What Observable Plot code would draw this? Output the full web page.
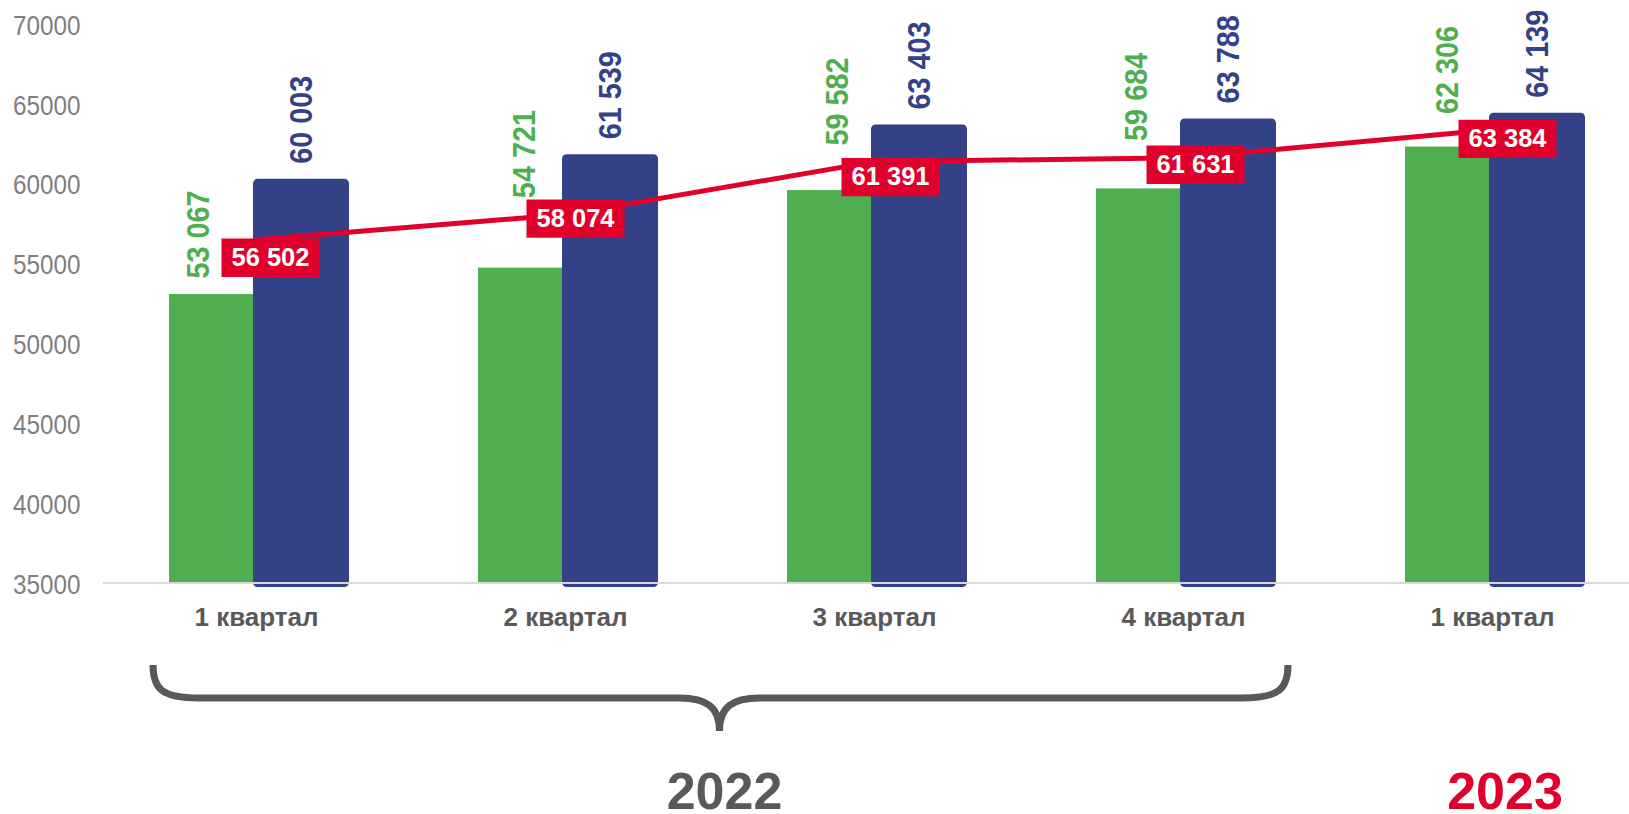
<!DOCTYPE html>
<html>
<head>
<meta charset="utf-8">
<script src="https://cdn.jsdelivr.net/npm/d3@7"></script>
<script src="https://cdn.jsdelivr.net/npm/@observablehq/plot@0.6"></script>
<style>
html,body{margin:0;padding:0;background:#fff;overflow:hidden}
svg{display:block}
</style>
</head>
<body>
<div id="chart"></div>
<script>
// ---- data ----
const quarterKeys = ["2022-1", "2022-2", "2022-3", "2022-4", "2023-1"];
const quarterLabels = ["1 квартал", "2 квартал", "3 квартал", "4 квартал", "1 квартал"];
const greenValues = [53067, 54721, 59582, 59684, 62306];
const blueValues = [60003, 61539, 63403, 63788, 64139];
const redValues = [56502, 58074, 61391, 61631, 63384];
const yTicks = [35000, 40000, 45000, 50000, 55000, 60000, 65000, 70000];
const yearLabels = ["2022", "2023"];

// ---- styling ----
const GREEN = "#4fae4f", BLUE = "#334287", RED = "#e0002b", GRAY = "#595959", TICK = "#7f7f7f";
const FONT = "'Liberation Sans', Arial, sans-serif";
// manual label nudges (px) as in the original layout
const redLabelNudge = [[14, 18], [10, 4], [16, 15.5], [12, 7], [15, 9]];
const greenLabelNudge = [[-13, -16], [4, -70], [8, -45], [-2, -48], [0, -33]];

const fmt = v => d3.format(",")(v).replace(/,/g, " ");
const labelByKey = Object.fromEntries(quarterKeys.map((k, i) => [k, quarterLabels[i]]));
const rows = quarterKeys.map((key, i) => ({
  key, label: quarterLabels[i], green: greenValues[i], blue: blueValues[i], red: redValues[i]
}));
const base = yTicks[0];

const rectSymbol = {draw(ctx) { ctx.rect(-49, -19.2, 98, 38.4); }};

const marks = [
  Plot.barY(rows, {x: "key", y1: base, y2: "green", fill: GREEN, insetLeft: 38, insetRight: 128}),
  Plot.barY(rows, {x: "key", y1: base, y2: "blue", fill: BLUE, stroke: BLUE, strokeWidth: 9,
    strokeLinejoin: "round", insetLeft: 126.5, insetRight: 36.5}),
  Plot.ruleY([base], {stroke: "#d9d9d9", strokeWidth: 2}),
  Plot.line(rows, {x: "key", y: "red", stroke: RED, strokeWidth: 5}),
  Plot.text(rows, {x: "key", y: "blue", text: d => fmt(d.blue), rotate: -90, textAnchor: "start",
    dx: 45, dy: -20, fill: BLUE, fontSize: 32, fontWeight: "bold"}),
  ...rows.map((d, i) => Plot.text([d], {x: "key", y: "green", text: r => fmt(r.green), rotate: -90,
    textAnchor: "start", dx: -45 + greenLabelNudge[i][0], dy: greenLabelNudge[i][1],
    fill: GREEN, fontSize: 32, fontWeight: "bold"})),
  ...rows.flatMap((d, i) => [
    Plot.dot([d], {x: "key", y: "red", symbol: rectSymbol, fill: RED,
      dx: redLabelNudge[i][0], dy: redLabelNudge[i][1]}),
    Plot.text([d], {x: "key", y: "red", text: r => fmt(r.red), fill: "white", fontSize: 25.5,
      fontWeight: "bold", dx: redLabelNudge[i][0], dy: redLabelNudge[i][1]})
  ]),
  Plot.axisY({ticks: yTicks, tickFormat: d3.format("d"), tickSize: 0, tickPadding: 23,
    fontSize: 27, color: TICK, label: null, dy: 2}),
  Plot.axisX({tickFormat: k => labelByKey[k], tickSize: 0, tickPadding: 25, fontSize: 26,
    fontWeight: "bold", color: GRAY, label: null})
];

const chart = Plot.plot({
  width: 1629,
  height: 814,
  marginLeft: 103,
  marginRight: 0,
  marginTop: 23.7,
  marginBottom: 231.5,
  style: {fontFamily: FONT, background: "white", overflow: "visible"},
  x: {type: "band", domain: quarterKeys, range: [131, 1617], paddingInner: 0.191, paddingOuter: 0, round: false},
  y: {domain: [35000, 70000]},
  marks
});
document.getElementById("chart").append(chart);

// condensed look for tick labels and value labels
chart.querySelectorAll("text").forEach(t => {
  const g = t.closest("[font-size]");
  const fs = g ? g.getAttribute("font-size") : null;
  if (fs === "27" || fs === "32") {
    const L = t.getComputedTextLength();
    t.setAttribute("textLength", (L * 0.9).toFixed(1));
    t.setAttribute("lengthAdjust", "spacingAndGlyphs");
  }
});

// year brace and year labels, positioned from the x scale
const xs = chart.scale("x");
const cx = k => xs.apply(k) + xs.bandwidth / 2;
const c0 = cx(quarterKeys[0]), c3 = cx(quarterKeys[3]), c4 = cx(quarterKeys[4]);
const x0 = c0 - 103, x1 = c3 + 105, xm = (c0 + c3) / 2;
const svg = d3.select(chart);
svg.append("path")
  .attr("d", `M${x0},665 C${x0},689 ${x0 + 9},698 ${x0 + 46},698 L${xm - 40},698 C${xm - 13},698 ${xm},707 ${xm},731 ` +
             `M${xm},731 C${xm},707 ${xm + 13},698 ${xm + 40},698 L${x1 - 46},698 C${x1 - 9},698 ${x1},689 ${x1},665`)
  .attr("fill", "none").attr("stroke", GRAY).attr("stroke-width", 7);
svg.append("text").text(yearLabels[0])
  .attr("x", xm + 5).attr("y", 809).attr("text-anchor", "middle")
  .attr("font-size", 52).attr("font-weight", "bold").attr("fill", GRAY).attr("font-family", FONT);
svg.append("text").text(yearLabels[1])
  .attr("x", c4 + 13).attr("y", 809).attr("text-anchor", "middle")
  .attr("font-size", 52).attr("font-weight", "bold").attr("fill", RED).attr("font-family", FONT);
</script>
</body>
</html>
